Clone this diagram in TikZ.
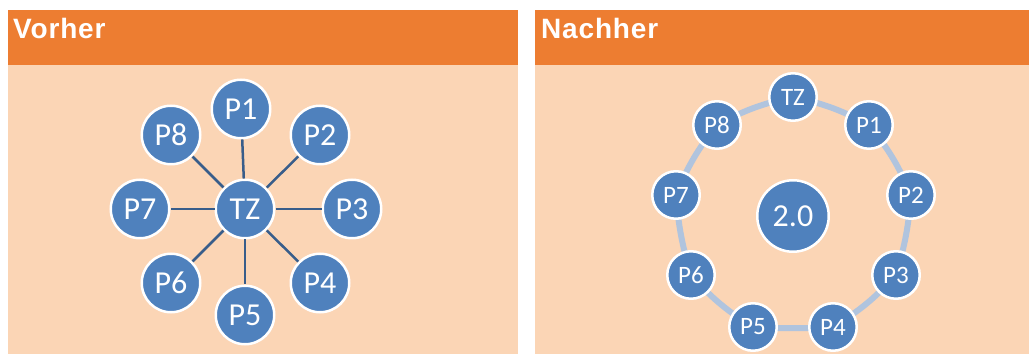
\documentclass[tikz,border=0pt]{standalone}
\usepackage{fontspec}
\setmainfont{Carlito}
\newfontfamily\headfont[LetterSpace=3]{Liberation Sans}
\definecolor{hdr}{HTML}{ED7D31}
\definecolor{body}{HTML}{FBD5B5}
\definecolor{nodeblue}{HTML}{4F81BD}
\definecolor{linkblue}{HTML}{385D8A}
\definecolor{ringblue}{HTML}{B0C4DE}
\pgfdeclarelayer{bg}
\pgfdeclarelayer{ring}
\pgfsetlayers{bg,ring,main}
\tikzset{
  bignode/.style={circle, fill=nodeblue, draw=white, line width=2.5pt, minimum size=58.5pt, inner sep=0pt, text=white, font=\fontsize{32}{32}\selectfont},
  smallnode/.style={circle, fill=nodeblue, draw=white, line width=2.5pt, minimum size=47.5pt, inner sep=0pt, text=white, font=\fontsize{25}{25}\selectfont},
  centernode/.style={circle, fill=nodeblue, draw=white, line width=2.5pt, minimum size=71.5pt, inner sep=0pt, text=white, font=\fontsize{32}{32}\selectfont},
  link/.style={draw=linkblue, line width=2.5pt},
  ringline/.style={draw=ringblue, line width=6pt},
  headtext/.style={anchor=base west, inner sep=0pt, text=white, font=\headfont\bfseries\fontsize{28}{28}\selectfont}
}
\begin{document}
\begin{tikzpicture}[x=1pt,y=-1pt]
\useasboundingbox (0,0) rectangle (1029,355);
\begin{pgfonlayer}{bg}
  \fill[body] (8,65) rectangle (518,354);
  \fill[hdr] (8,10) rectangle (518,65);
  \fill[body] (535,65) rectangle (1029,354);
  \fill[hdr] (535,10) rectangle (1029,65);
\end{pgfonlayer}
\node[headtext] (h1) at (13,39) {Vorher};
\node[headtext] (h2) at (541,39) {Nachher};
% left panel
\node[bignode] (tz) at (245,209) {TZ};
\node[bignode] (p1) at (241,109) {P1};
\node[bignode] (p2) at (320,135) {P2};
\node[bignode] (p3) at (352,209) {P3};
\node[bignode] (p4) at (320,283) {P4};
\node[bignode] (p5) at (245,315) {P5};
\node[bignode] (p6) at (171,283) {P6};
\node[bignode] (p7) at (140,209) {P7};
\node[bignode] (p8) at (171,135) {P8};
\foreach \p in {p1,p2,p3,p4,p5,p6,p7,p8} \draw[link] (tz) -- (\p);
% right panel
\node[smallnode] (rtz) at (793,97) {TZ};
\node[smallnode] (r1) at (869,125) {P1};
\node[smallnode] (r2) at (911,195) {P2};
\node[smallnode] (r3) at (896,275) {P3};
\node[smallnode] (r4) at (833,327) {P4};
\node[smallnode] (r5) at (753,327) {P5};
\node[smallnode] (r6) at (691,275) {P6};
\node[smallnode] (r7) at (676,195) {P7};
\node[smallnode] (r8) at (717,125) {P8};
\node[centernode] (c20) at (793,216) {2.0};
\begin{pgfonlayer}{ring}
  \draw[ringline] (rtz.center) to[bend left=8] (r1.center) to[bend left=8] (r2.center) to[bend left=6] (r3.center) to[bend left=8] (r4.center) to[bend left=3] (r5.center) to[bend left=8] (r6.center) to[bend left=6] (r7.center) to[bend left=8] (r8.center) to[bend left=8] (rtz.center);
\end{pgfonlayer}
\end{tikzpicture}
\end{document}
